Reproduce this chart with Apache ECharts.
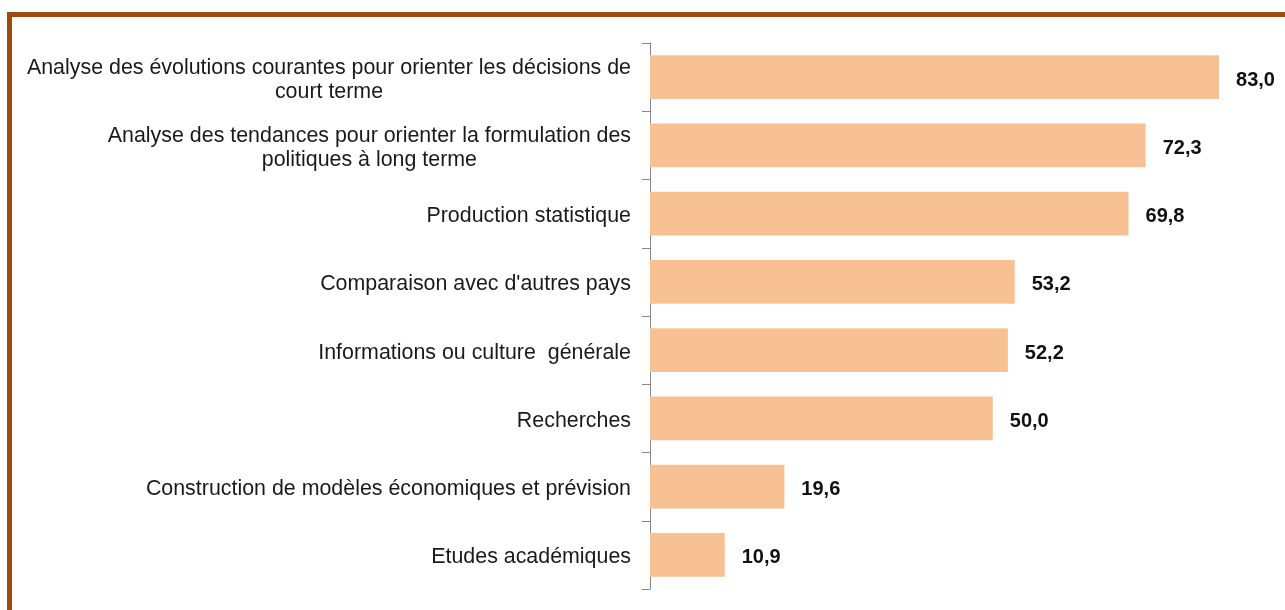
<!DOCTYPE html>
<html>
<head>
<meta charset="utf-8">
<script src="https://cdn.jsdelivr.net/npm/echarts@6/dist/echarts.min.js"></script>
<style>
  html, body { margin: 0; padding: 0; background: #fff; overflow: hidden; }
  #chart { position: absolute; left: 0; top: 0; width: 1285px; height: 610px; }
  #frame {
    position: absolute; left: 7px; top: 12px; width: 1400px; height: 700px;
    border: 5px solid #9c4b11; box-sizing: border-box; pointer-events: none;
  }
</style>
</head>
<body>
<div id="chart"></div>
<div id="frame"></div>
<script>
// categories, top to bottom
const categories = [
  "Analyse des évolutions courantes pour orienter les décisions de\ncourt terme",
  "Analyse des tendances pour orienter la formulation des\npolitiques à long terme",
  "Production statistique",
  "Comparaison avec d'autres pays",
  "Informations ou culture  générale",
  "Recherches",
  "Construction de modèles économiques et prévision",
  "Etudes académiques"
];
const values = [83.0, 72.3, 69.8, 53.2, 52.2, 50.0, 19.6, 10.9];

const chart = echarts.init(document.getElementById("chart"));

chart.setOption({
  animation: false,
  grid: { left: 650, top: 43, width: 617, height: 546 },
  xAxis: {
    type: "value",
    min: 0,
    max: 90,
    show: false
  },
  yAxis: {
    type: "category",
    inverse: true,
    data: categories,
    axisLine: { show: true, lineStyle: { color: "#868686", width: 1 } },
    axisTick: { show: true, inside: false, alignWithLabel: false, length: 8, lineStyle: { color: "#868686" } },
    axisLabel: {
      margin: 19,
      padding: [5, 0, 0, 0],
      // centre each line inside the right-aligned block
      formatter: (v) => "{c|" + v + "}",
      rich: {
        c: {
          align: "center",
          fontFamily: "Liberation Sans, Arial, sans-serif",
          fontSize: 21.4,
          lineHeight: 24,
          color: "#1a1a1a"
        }
      }
    }
  },
  series: [{
    type: "bar",
    data: values,
    barCategoryGap: "36%",
    itemStyle: { color: "#f8c193" },
    label: {
      show: true,
      position: "right",
      distance: 17,
      offset: [0, 3],
      formatter: (p) => p.value.toFixed(1).replace(".", ","),
      fontFamily: "Liberation Sans, Arial, sans-serif",
      fontWeight: "bold",
      fontSize: 20,
      color: "#111"
    }
  }]
});
</script>
</body>
</html>
